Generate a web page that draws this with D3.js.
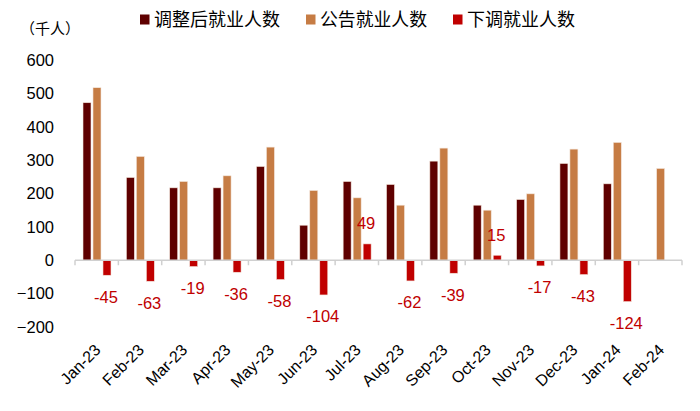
<!DOCTYPE html>
<html><head><meta charset="utf-8">
<script src="https://cdn.jsdelivr.net/npm/d3@7"></script>
<style>body{margin:0;background:#fff}svg{display:block}</style>
</head><body>
<svg id="c" width="700" height="411"></svg>
<script>
const months = ["Jan-23","Feb-23","Mar-23","Apr-23","May-23","Jun-23","Jul-23","Aug-23","Sep-23","Oct-23","Nov-23","Dec-23","Jan-24","Feb-24"];
const adjusted = [472,248,217,217,281,105,236,227,297,165,182,290,229,null];
const announced = [517,311,236,253,339,209,187,165,336,150,199,333,353,275];
const revision = [-45,-63,-19,-36,-58,-104,49,-62,-39,15,-17,-43,-124,null];
const seriesNames = ["调整后就业人数","公告就业人数","下调就业人数"];
const yTicks = [600,500,400,300,200,100,0,-100,-200];
const colors = ["#5f0000","#c67c44","#c00000"];
const latin = "'Liberation Sans', Arial, sans-serif";
const cjk = "'Noto Sans CJK SC', sans-serif";

const svg = d3.select("#c");
const x = d3.scaleBand().domain(months).range([75, 682]).padding(0);
const y = d3.scaleLinear().domain([-200, 600]).range([327, 60]);
const bw = x.bandwidth();
const sub = d3.scaleBand().domain([0,1,2]).range([bw*0.1845, bw*0.83]).paddingInner(0.2);

// y axis labels
const yAxis = svg.append("g").attr("transform","translate(54,0)")
  .call(d3.axisLeft(y).tickValues(yTicks).tickSize(0).tickPadding(0).tickFormat(d3.format("d")));
yAxis.select(".domain").remove();
yAxis.selectAll("text").attr("font-family", latin).attr("font-size", 16.5).attr("fill","#000");

// unit
svg.append("text").attr("x", 20).attr("y", 29).attr("dy","0.36em").attr("font-family", cjk).attr("font-size", 15).attr("fill","#000").text("（千人）");

// bars
const data = months.map((m,i)=>({m, v:[adjusted[i], announced[i], revision[i]]}));
const g = svg.append("g");
data.forEach(d=>{
  d.v.forEach((v,k)=>{
    if (v === null) return;
    g.append("rect")
      .attr("x", x(d.m) + sub(k))
      .attr("width", sub.bandwidth())
      .attr("y", Math.min(y(v), y(0)))
      .attr("height", Math.abs(y(v) - y(0)))
      .attr("fill", colors[k])
      .attr("stroke", "#f3e6dc").attr("stroke-width", 0.6);
  });
});

// x axis line & boundary ticks
const ax = svg.append("g").attr("stroke","#d0d0d0").attr("stroke-width",1.5);
ax.append("line").attr("x1", x.range()[0]).attr("x2", x.range()[1]).attr("y1", y(0)).attr("y2", y(0));
months.concat([null]).forEach((m,i)=>{
  const xx = m ? x(m) : x.range()[1];
  ax.append("line").attr("x1", xx).attr("x2", xx).attr("y1", y(0)).attr("y2", y(0)+5);
});

// x labels
const xAxis = svg.append("g").attr("transform", "translate(0,345)")
  .call(d3.axisBottom(x).tickSize(0).tickPadding(0));
xAxis.select(".domain").remove();
xAxis.selectAll("text")
  .attr("font-family", latin).attr("font-size", 16).attr("fill","#000")
  .attr("text-anchor","end").attr("dy","0.7em")
  .attr("transform", "translate(-3,-2) rotate(-45)");

// revision labels
data.forEach(d=>{
  const v = d.v[2];
  if (v === null) return;
  const cx = x(d.m) + sub(2) + sub.bandwidth()/2 - 1;
  const cy = y(v) + (v < 0 ? 21.5 : -20.5);
  svg.append("text").attr("x", cx).attr("y", cy).attr("dy","0.35em")
    .attr("text-anchor","middle").attr("font-family", latin).attr("font-size", 16.5)
    .attr("fill", "#c00000").text(v);
});

// legend
const legX = [140, 306, 453];
const legW = [126, 107, 108];
seriesNames.forEach((n,k)=>{
  svg.append("rect").attr("x", legX[k]).attr("y", 14.5).attr("width", 9.5).attr("height", 10).attr("fill", colors[k]);
  svg.append("text").attr("x", legX[k]+14).attr("y", 19.5).attr("dy","0.36em")
    .attr("font-family", cjk).attr("font-size", 18).attr("fill","#000")
    .attr("textLength", legW[k]).attr("lengthAdjust","spacingAndGlyphs").text(n);
});
</script>
</body></html>
